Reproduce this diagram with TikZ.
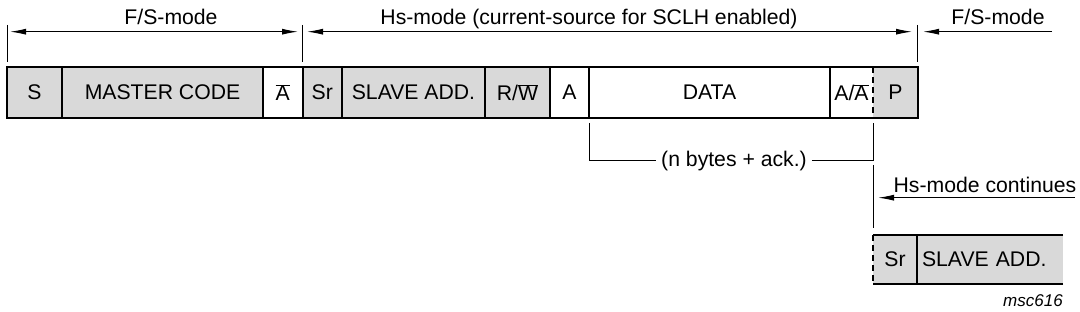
\documentclass[tikz,border=0pt]{standalone}
\usepackage{fontspec}
\setmainfont{Liberation Sans}
\usetikzlibrary{arrows.meta}
\definecolor{fieldgray}{RGB}{217,217,217}
\newcommand{\ovl}[1]{$\overline{\mbox{#1}}$}

\begin{document}
\begin{tikzpicture}[x=1pt,y=-1pt,>={Latex[length=16pt,width=6pt]},
  field/.style={fill=#1,inner sep=0pt,minimum height=50pt,font=\fontsize{21.2}{25}\selectfont},
  field/.default=white,
  frame/.style={line width=1.8pt},
  guide/.style={line width=1pt},
  dim/.style={guide,<->},
  lead/.style={guide,->},
  modetext/.style={anchor=base,inner sep=5pt,font=\fontsize{21.2}{25}\selectfont}]
\useasboundingbox (0,0) rectangle (1080,312);

\node[field=fieldgray,minimum width=55pt] (s) at (34.5,92.5) {S};
\node[field=fieldgray,minimum width=201pt] (mcode) at (162.5,92.5) {MASTER CODE};
\node[field,minimum width=39.5pt] (nack) at (282.75,92.5) {\ovl{A}};
\node[field=fieldgray,minimum width=39.5pt] (sr) at (322.25,92.5) {Sr};
\node[field=fieldgray,minimum width=143pt] (sladd) at (413.5,92.5) {SLAVE ADD.};
\node[field=fieldgray,minimum width=65pt] (rw) at (517.5,92.5) {R/\ovl{W}};
\node[field,minimum width=39pt] (ack) at (569.5,92.5) {A};
\node[field,minimum width=241pt] (data) at (709.5,92.5) {DATA};
\node[field,minimum width=43pt] (aack) at (851.5,92.5) {A/\ovl{A}};
\node[field=fieldgray,minimum width=45pt] (stop) at (895.5,92.5) {P};

\draw[frame] (s.north west) -- (stop.north east) -- (stop.south east) -- (s.south west) -- cycle;
\foreach \f in {s,mcode,nack,sr,sladd,rw,ack,data}
  \draw[frame] (\f.north east) -- (\f.south east);
\draw[frame,dash pattern=on 6pt off 4pt] (aack.north east) -- (aack.south east);

\node[field=fieldgray,minimum width=44pt,minimum height=49pt] (sr2) at (895,259.5) {Sr};
\node[field=fieldgray,minimum width=146pt,minimum height=49pt,text width=136pt,align=left] (sladd2) at (990,259.5) {SLAVE ADD.};
\draw[frame] (sladd2.north east) -- (sr2.north west);
\draw[frame] (sladd2.south east) -- (sr2.south west);
\draw[frame,dash pattern=on 6pt off 4pt] (sr2.north west) -- (sr2.south west);
\draw[frame] (sr2.north east) -- (sr2.south east);

\foreach \x/\n in {7/fsa,302.5/hsa,917/hsb} {
  \coordinate (\n) at (\x,31.7);
  \draw[guide] (\x,25) -- (\x,62);
}
\coordinate (fsend) at (1052,31.7);
\draw[dim,shorten <=3pt,shorten >=4.5pt] (fsa) -- (hsa);
\draw[dim,shorten <=4.5pt,shorten >=5pt] (hsa) -- (hsb);
\draw[lead,shorten >=6pt] (fsend) -- (hsb);

\node[modetext] (fsl) at (171,25) {F/S-mode};
\node[modetext] (hs) at (589,25) {Hs-mode (current-source for SCLH enabled)};
\node[modetext] (fsr) at (998,25) {F/S-mode};

\node[modetext] (nbytes) at (734,166.7) {(n bytes + ack.)};
\coordinate (brl) at (589,123);
\coordinate (brr) at (873,123);
\coordinate (brh) at (734,160.7);
\draw[guide] (brl) |- (brh -| nbytes.west);
\draw[guide] (brh -| nbytes.east) -| (brr);

\coordinate (cta) at (873,165);
\coordinate (ctb) at (873,228);
\draw[guide] (cta) -- (ctb);
\node[modetext] (hsc) at (985,192.3) {Hs-mode continues};
\coordinate (hscend) at (1075,197.7);
\draw[lead] (hscend) -- (878,197.7);

\node[anchor=base,font=\fontsize{17}{20}\selectfont\itshape] (tag) at (1033,306.5) {msc616};
\end{tikzpicture}
\end{document}
